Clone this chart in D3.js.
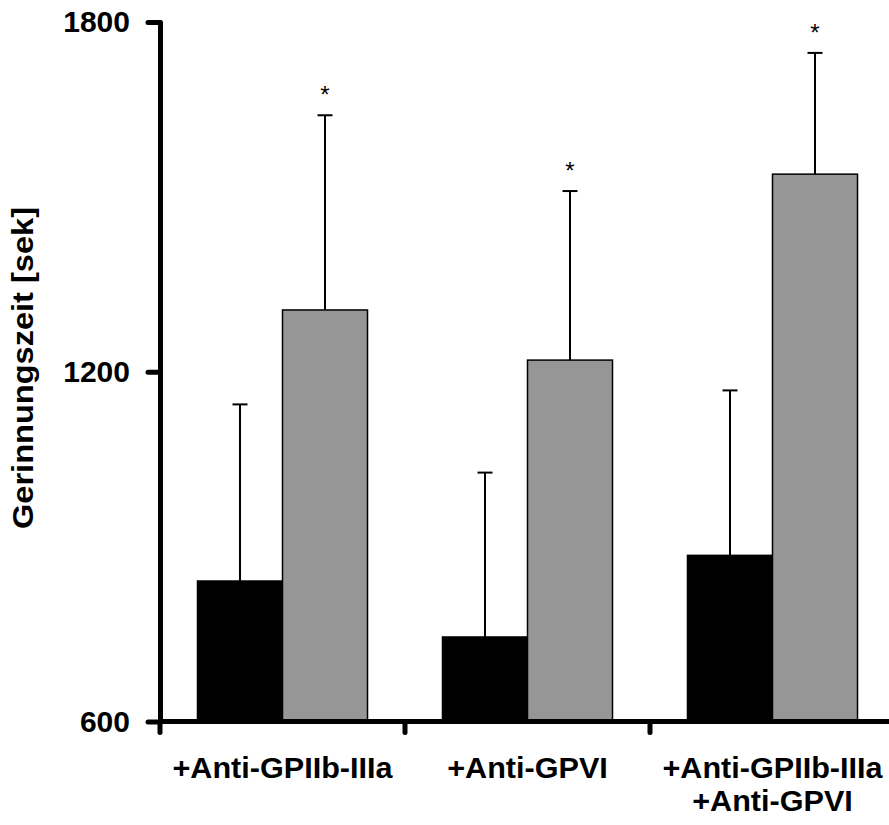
<!DOCTYPE html>
<html>
<head>
<meta charset="utf-8">
<script src="https://cdn.jsdelivr.net/npm/d3@7"></script>
<style>
  html, body { margin: 0; padding: 0; background: #fff; }
  svg { display: block; }
  text { font-family: "Liberation Sans", Arial, Helvetica, sans-serif; font-weight: bold; fill: #000; }
</style>
</head>
<body>
<svg id="chart" width="889" height="825"></svg>
<script>
// ---- data ----
const categories = [["+Anti-GPIIb-IIIa"], ["+Anti-GPVI"], ["+Anti-GPIIb-IIIa", "+Anti-GPVI"]];
const seriesNames = ["control", "treated"];
const controlMeans = [841, 745, 885];
const controlErrors = [303, 282, 283];
const treatedMeans = [1306, 1220, 1539];
const treatedErrors = [334, 290, 208];
const treatedSignificant = [true, true, true];
const yTicks = [600, 1200, 1800];
const yTitle = "Gerinnungszeit [sek]";
const seriesColors = ["#000000", "#969696"];

// ---- layout ----
const svg = d3.select("#chart");
const x0 = 160, x1 = 895;
const yTop = 22, yBottom = 721.5;

const x = d3.scaleBand()
  .domain(d3.range(categories.length))
  .range([x0, x1])
  .paddingInner(0.306)
  .paddingOuter(0.153);

const xs = d3.scaleBand()
  .domain(seriesNames)
  .range([0, x.bandwidth()]);

const y = d3.scaleLinear().domain([600, 1800]).range([yBottom, yTop]);

const rows = categories.map((c, i) => ({
  i,
  values: [
    { s: seriesNames[0], mean: controlMeans[i], err: controlErrors[i], color: seriesColors[0], sig: false },
    { s: seriesNames[1], mean: treatedMeans[i], err: treatedErrors[i], color: seriesColors[1], sig: treatedSignificant[i] }
  ]
}));

const groups = svg.append("g").selectAll("g")
  .data(rows).join("g")
  .attr("transform", d => `translate(${x(d.i)},0)`);

// error bars (upper only)
groups.selectAll("line.err")
  .data(d => d.values).join("line")
  .attr("class", "err")
  .attr("x1", d => xs(d.s) + xs.bandwidth() / 2)
  .attr("x2", d => xs(d.s) + xs.bandwidth() / 2)
  .attr("y1", d => y(d.mean))
  .attr("y2", d => y(d.mean + d.err))
  .attr("stroke", "#000").attr("stroke-width", 2);

groups.selectAll("line.cap")
  .data(d => d.values).join("line")
  .attr("class", "cap")
  .attr("x1", d => xs(d.s) + xs.bandwidth() / 2 - 7.5)
  .attr("x2", d => xs(d.s) + xs.bandwidth() / 2 + 7.5)
  .attr("y1", d => y(d.mean + d.err))
  .attr("y2", d => y(d.mean + d.err))
  .attr("stroke", "#000").attr("stroke-width", 2);

// bars
groups.selectAll("rect")
  .data(d => d.values).join("rect")
  .attr("x", d => xs(d.s))
  .attr("width", xs.bandwidth())
  .attr("y", d => y(d.mean))
  .attr("height", d => y(600) - y(d.mean))
  .attr("fill", d => d.color)
  .attr("stroke", "#000").attr("stroke-width", 1.5);

// significance asterisks
groups.selectAll("text.sig")
  .data(d => d.values.filter(v => v.sig)).join("text")
  .attr("class", "sig")
  .attr("x", d => xs(d.s) + xs.bandwidth() / 2)
  .attr("y", d => y(d.mean + d.err) - 12)
  .attr("text-anchor", "middle")
  .style("font-size", "24px")
  .style("font-weight", "normal")
  .text("*");

// y axis
const yAxis = svg.append("g")
  .attr("transform", `translate(${x0},0)`)
  .call(d3.axisLeft(y).tickValues(yTicks).tickSize(12).tickSizeOuter(0).tickPadding(18).tickFormat(d3.format("d")));
yAxis.select(".domain").attr("stroke", "#000").attr("stroke-width", 5).attr("stroke-linecap", "round");
yAxis.selectAll(".tick line").attr("stroke", "#000").attr("stroke-width", 5).attr("stroke-linecap", "round");
yAxis.selectAll(".tick text").style("font-size", "30px").style("font-family", "'Liberation Sans', Arial, sans-serif").style("font-weight", "bold");

// x axis line and boundary ticks
const boundaries = d3.range(categories.length + 1).map(i => x0 + i * x.step());
svg.append("line")
  .attr("x1", x0).attr("x2", 889 + 5)
  .attr("y1", yBottom).attr("y2", yBottom)
  .attr("stroke", "#000").attr("stroke-width", 5);
svg.append("g").selectAll("line")
  .data(boundaries).join("line")
  .attr("x1", d => d).attr("x2", d => d)
  .attr("y1", yBottom).attr("y2", yBottom + 11)
  .attr("stroke", "#000").attr("stroke-width", 5).attr("stroke-linecap", "round");

// category labels (one text per line)
const labelLines = [];
rows.forEach(d => categories[d.i].forEach((line, k) => labelLines.push({ i: d.i, k, line })));
svg.append("g").selectAll("text")
  .data(labelLines).join("text")
  .attr("text-anchor", "middle")
  .attr("x", d => x(d.i) + x.bandwidth() / 2)
  .attr("y", d => 778 + d.k * 32.5)
  .style("font-size", "29px")
  .text(d => d.line)
  .each(function() {
    const len = this.getComputedTextLength();
    d3.select(this).attr("textLength", len * 1.055).attr("lengthAdjust", "spacingAndGlyphs");
  });

// y title
svg.append("text")
  .attr("transform", "translate(33,368) rotate(-90)")
  .attr("text-anchor", "middle")
  .attr("textLength", 322)
  .attr("lengthAdjust", "spacingAndGlyphs")
  .style("font-size", "29px")
  .text(yTitle);
</script>
</body>
</html>
